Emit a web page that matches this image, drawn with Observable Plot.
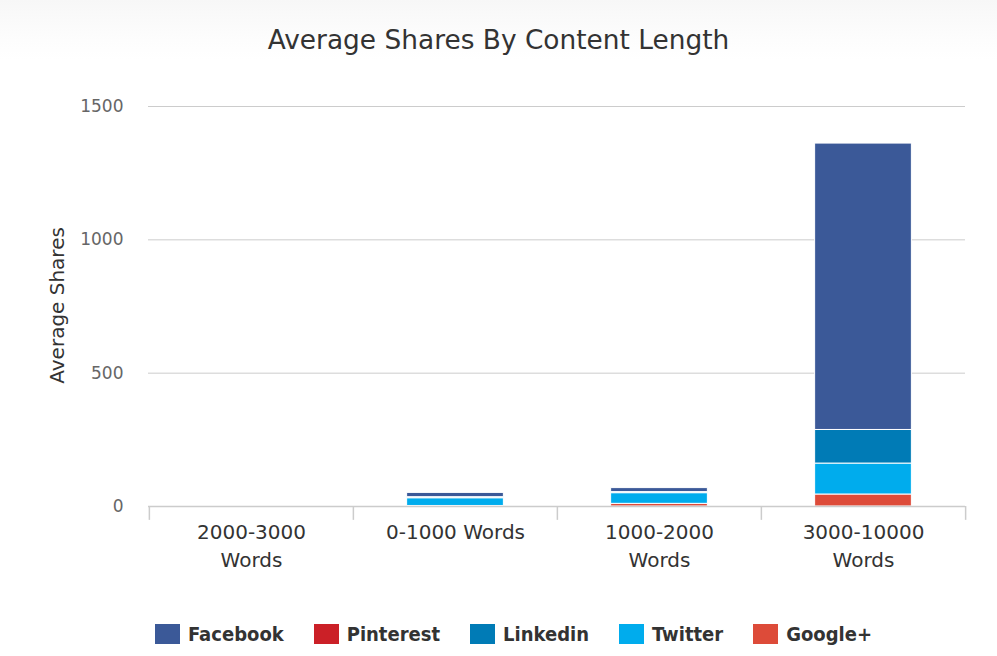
<!DOCTYPE html>
<html>
<head>
<meta charset="utf-8">
<script src="https://cdn.jsdelivr.net/npm/d3@7"></script>
<script src="https://cdn.jsdelivr.net/npm/@observablehq/plot@0.6"></script>
<style>
  body { margin: 0; background: #fff; font-family: "DejaVu Sans", sans-serif; }
  #wrap { position: relative; width: 997px; height: 656px; overflow: hidden;
          background: linear-gradient(#f7f7f7 0px, #fdfdfd 40px, #ffffff 60px); }
  #title { position: absolute; left: 0; width: 997px; top: 24px; text-align: center;
           font-size: 26.4px; color: #333; }
  #chart { position: absolute; left: 0; top: 0; }
  #legend { position: absolute; left: 15px; width: 997px; top: 622px; display: flex;
            justify-content: center; gap: 30px; font-size: 20px; font-weight: bold; color: #333;
            font-family: "DejaVu Sans Condensed", "DejaVu Sans", sans-serif; }
  .item { display: flex; align-items: center; gap: 8px; }
  .sw { width: 25px; height: 20px; display: inline-block; }
</style>
</head>
<body>
<div id="wrap">
  <div id="title">Average Shares By Content Length</div>
  <div id="chart"></div>
  <div id="legend"></div>
</div>
<script>
const categories = ["2000-3000 Words", "0-1000 Words", "1000-2000 Words", "3000-10000 Words"];
const tickLabels = ["2000-3000\nWords", "0-1000 Words", "1000-2000\nWords", "3000-10000\nWords"];
const seriesNames = ["Facebook", "Pinterest", "Linkedin", "Twitter", "Google+"];
const seriesColors = ["#3b5998", "#cb2027", "#007bb6", "#00aced", "#dd4b39"];
const facebook  = [0, 16, 15, 1074];
const pinterest = [0, 0, 0, 0];
const linkedin  = [0, 4, 4, 126];
const twitter   = [0, 29, 40, 116];
const googleplus= [0, 2, 10, 45];
const yTicks = [0, 500, 1000, 1500];

const seriesValues = [facebook, pinterest, linkedin, twitter, googleplus];
// stacking order bottom -> top: Google+, Twitter, Linkedin, Pinterest, Facebook
const stackOrder = ["Google+", "Twitter", "Linkedin", "Pinterest", "Facebook"];
const data = [];
for (const s of stackOrder) {
  const si = seriesNames.indexOf(s);
  categories.forEach((c, ci) => data.push({category: c, series: s, value: seriesValues[si][ci]}));
}

const width = 997, height = 600;
const mL = 148, mR = 32;
const band = (width - mL - mR) / categories.length;
const barW = 97;
const inset = (band - barW) / 2;
const labelMap = new Map(categories.map((c, i) => [c, tickLabels[i]]));

const chart = Plot.plot({
  width, height,
  marginLeft: mL, marginRight: mR, marginTop: 106, marginBottom: 94,
  style: {fontFamily: "DejaVu Sans, sans-serif", background: "transparent", overflow: "visible"},
  x: {domain: categories, padding: 0, label: null},
  y: {domain: [0, 1500], label: null},
  color: {domain: seriesNames, range: seriesColors},
  marks: [
    Plot.ruleY(yTicks.filter(d => d > 0), {stroke: "#cccccc", strokeWidth: 1}),
    Plot.barY(data.filter(d => d.value > 0), Plot.stackY({
      x: "category", y: "value", fill: "series", order: stackOrder,
      stroke: "#ffffff", strokeWidth: 1, insetLeft: inset, insetRight: inset
    })),
    Plot.ruleY([0], {stroke: "#cccccc", strokeWidth: 1.5}),
    Plot.ruleX(categories, {x: d => d, dx: -band / 2, y1: 0, y2: -52, stroke: "#cccccc", strokeWidth: 1.5}),
    Plot.ruleX(categories.slice(-1), {x: d => d, dx: band / 2, y1: 0, y2: -52, stroke: "#cccccc", strokeWidth: 1.5}),
    Plot.axisY({ticks: yTicks, tickSize: 0, tickPadding: 25, fontSize: 17, fill: "#666",
                label: null, tickFormat: d => String(d)}),
    Plot.axisX({tickSize: 0, tickPadding: 13, fontSize: 20, fill: "#333", label: null,
                lineHeight: 1.4, tickFormat: d => labelMap.get(d)}),
    Plot.text(["Average Shares"], {frameAnchor: "left", dx: -91, y: 754, rotate: -90,
                textAnchor: "middle", fontSize: 20, fill: "#333", text: d => d})
  ]
});
document.getElementById("chart").appendChild(chart);

const legend = document.getElementById("legend");
seriesNames.forEach((s, i) => {
  const it = document.createElement("div");
  it.className = "item";
  const sw = document.createElement("span");
  sw.className = "sw";
  sw.style.background = seriesColors[i];
  const t = document.createElement("span");
  t.textContent = s;
  it.appendChild(sw); it.appendChild(t);
  legend.appendChild(it);
});
</script>
</body>
</html>
